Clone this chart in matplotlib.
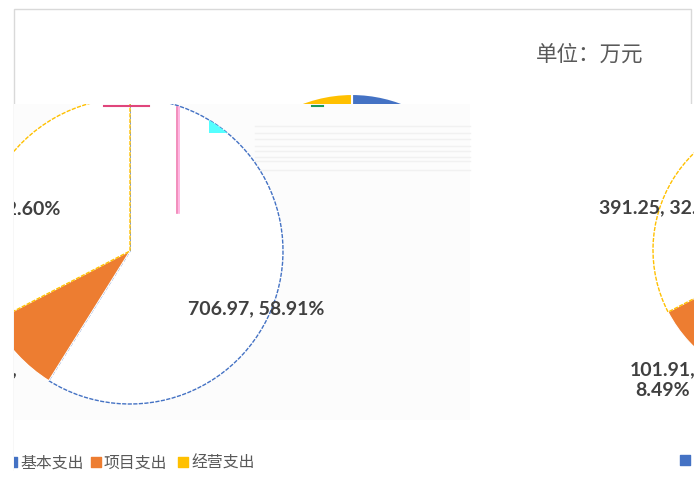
import matplotlib
matplotlib.use('Agg')
import matplotlib.pyplot as plt
from matplotlib.patches import Rectangle

plt.rcParams['font.family'] = ['Noto Sans CJK SC', 'DejaVu Sans']

# ── data ──
categories = ['基本支出', '项目支出', '经营支出']
amounts = [706.97, 101.91, 391.25]
shares = [58.91, 8.49, 32.60]
colors = ['#4472C4', '#ED7D31', '#FFC000']
unit_label = '单位：万元'

W, H = 694, 479
fig = plt.figure(figsize=(W / 100, H / 100), dpi=100)

# ── background layer (pixel coords, y from bottom) ──
bg = fig.add_axes([0, 0, 1, 1])
bg.axis('off')
bg.add_patch(Rectangle((14.5, H - 470), 677, 461, facecolor='white',
                       edgecolor='#d9d9d9', lw=1))
bg.pie(amounts, colors=colors, startangle=90, counterclock=False,
       center=(352, H - 234), radius=140, frame=True,
       wedgeprops=dict(edgecolor='white', linewidth=1.5))
bg.text(590, H - 55, unit_label, fontsize=15.5, color='#595959',
        ha='center', va='center')
bg.set_xlim(0, W)
bg.set_ylim(0, H)

# ── lower panel that covers the top pie ──
lo = fig.add_axes([14 / W, 0, (W - 14) / W, 375 / H])
lo.set_facecolor('white')
for s in lo.spines.values():
    s.set_visible(False)
lo.set_xticks([])
lo.set_yticks([])
lo.add_patch(Rectangle((14, H - 420), 456, 316, facecolor='#fcfcfc',
                       edgecolor='none', zorder=0))
for yy in [126, 133, 139, 146, 151, 157, 161, 170]:
    lo.plot([255, 470], [H - yy, H - yy], color='#f1f1f1', lw=1, zorder=0.5)


def style_pie(wedges):
    for w in wedges:
        w.set_clip_on(True)
        w.set_clip_path(lo.patch)
    wedges[0].set_facecolor('white')
    wedges[0].set_edgecolor(colors[0])
    wedges[0].set_linestyle((0, (3, 1)))
    wedges[0].set_linewidth(1)
    wedges[1].set_edgecolor('white')
    wedges[1].set_linewidth(0.8)
    wedges[2].set_facecolor('white')
    wedges[2].set_edgecolor(colors[2])
    wedges[2].set_linestyle((0, (3, 1)))
    wedges[2].set_linewidth(1)


# left pie
wl, _ = lo.pie(amounts, colors=colors, startangle=90, counterclock=False,
               center=(130, H - 251), radius=153, frame=True)
style_pie(wl)
# right pie (mostly outside the picture)
wr, _ = lo.pie(amounts, colors=colors, startangle=90, counterclock=False,
               center=(788, H - 250), radius=135, frame=True)
style_pie(wr)

lbl = dict(fontsize=14, fontweight='bold', color='#404040',
           family=['Lato', 'DejaVu Sans'], clip_on=True, va='center')
one_line = [f'{a:.2f}, {s:.2f}%' for a, s in zip(amounts, shares)]
two_line = [f'{a:.2f},\n{s:.2f}%' for a, s in zip(amounts, shares)]

lo.text(188, H - 309, one_line[0], ha='left', **lbl)
lo.text(60, H - 209, one_line[2], ha='right', **lbl)
lo.text(-15, H - 380, two_line[1], ha='center', linespacing=1.3,
        multialignment='center', **lbl)
lo.text(599, H - 208, one_line[2], ha='left', **lbl)
lo.text(663, H - 380, two_line[1], ha='center', linespacing=1.3,
        multialignment='center', **lbl)

# stray rendering artefacts
lo.plot([104, 149], [H - 106, H - 106], color='#e0457b', lw=1.5)
lo.plot([176.5, 176.5], [H - 107, H - 213], color='#f07ab0', lw=1.2)
lo.plot([179, 179], [H - 107, H - 213], color='#ffa8dc', lw=1.2)
lo.plot([312, 323], [H - 106, H - 106], color='#1a9a5a', lw=1.5)
cy = Rectangle((209, H - 133), 22, 15, facecolor='#55ffff', edgecolor='none')
lo.add_patch(cy)
cy.set_clip_path(wl[0])

# legend
leg_x = [11.5, 95.5, 183]
for x, c, name in zip(leg_x, colors, categories):
    lo.scatter([x], [H - 462], marker='s', s=42, color=c, clip_on=True)
    lo.text(x + 8.5, H - 463, name, fontsize=11.4, color='#595959',
            ha='left', va='center', clip_on=True)
lo.scatter([685], [H - 460], marker='s', s=42, color=colors[0], clip_on=True)

lo.set_xlim(14, W)
lo.set_ylim(0, 375)
lo.set_aspect('auto')

fig.savefig('out.png', dpi=100, facecolor='white')
